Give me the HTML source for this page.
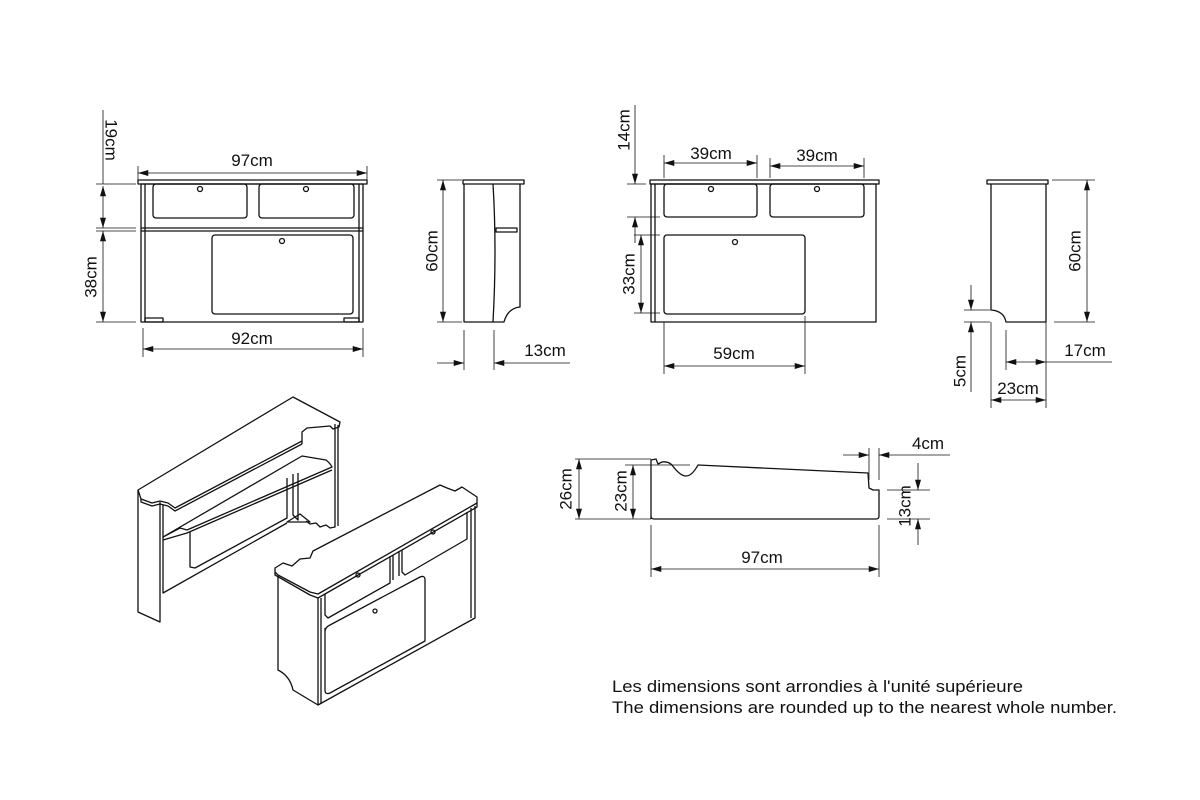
<!DOCTYPE html>
<html><head><meta charset="utf-8"><style>
html,body{margin:0;padding:0;background:#fff;}
svg{display:block;}
text{font-family:"Liberation Sans",Arial,sans-serif;font-size:17px;fill:#111;}
</style></head><body>
<svg width="1200" height="800" viewBox="0 0 1200 800" xmlns="http://www.w3.org/2000/svg">
<defs>
<marker id="a" viewBox="0 0 12 7" refX="12" refY="3.5" markerWidth="12" markerHeight="6" markerUnits="userSpaceOnUse" orient="auto-start-reverse"><path d="M0,0 L12,3.5 L0,7 z" fill="#111"/></marker>
</defs>
<g fill="none" stroke="#111" stroke-width="1.3" stroke-linejoin="round">
<!-- ===== Front view 1 ===== -->
<rect x="138" y="180" width="229" height="4"/>
<rect x="141" y="184" width="222" height="138"/>
<line x1="145" y1="184" x2="145" y2="322"/>
<line x1="359" y1="184" x2="359" y2="322"/>
<rect x="153" y="184" width="94" height="34" rx="3"/>
<rect x="259" y="184" width="95" height="34" rx="3"/>
<line x1="141" y1="228" x2="363" y2="228"/>
<line x1="141" y1="231" x2="363" y2="231"/>
<rect x="212" y="235" width="141" height="79" rx="3"/>
<circle cx="200" cy="189" r="2.5"/><circle cx="306" cy="189" r="2.5"/><circle cx="282" cy="241" r="2.5"/>
<rect x="145" y="318" width="18" height="4"/><rect x="344" y="318" width="15" height="4"/>
<line x1="138" y1="173" x2="367" y2="173" stroke-width="0.8" marker-start="url(#a)" marker-end="url(#a)"/>
<line x1="138" y1="166" x2="138" y2="180" stroke-width="0.8"/><line x1="367" y1="166" x2="367" y2="180" stroke-width="0.8"/>
<line x1="103" y1="110" x2="103" y2="184" stroke-width="0.8"/>
<line x1="103" y1="186" x2="103" y2="228" stroke-width="0.8" marker-start="url(#a)" marker-end="url(#a)"/>
<line x1="103" y1="231" x2="103" y2="322" stroke-width="0.8" marker-start="url(#a)" marker-end="url(#a)"/>
<line x1="96" y1="184" x2="136" y2="184" stroke-width="0.8"/>
<line x1="96" y1="228" x2="136" y2="228" stroke-width="0.8"/>
<line x1="96" y1="231" x2="136" y2="231" stroke-width="0.8"/>
<line x1="96" y1="322" x2="136" y2="322" stroke-width="0.8"/>
<line x1="143" y1="349" x2="363" y2="349" stroke-width="0.8" marker-start="url(#a)" marker-end="url(#a)"/>
<line x1="143" y1="328" x2="143" y2="357" stroke-width="0.8"/><line x1="363" y1="328" x2="363" y2="357" stroke-width="0.8"/>

<!-- ===== Side view 1 ===== -->
<rect x="463" y="180" width="61" height="4"/>
<path d="M464,184 L464,322 L504,322 Q508,308 520,307 L520,184"/>
<path d="M493,184 Q497,250 493,322"/>
<rect x="496" y="228" width="21" height="4"/>
<line x1="443" y1="180" x2="443" y2="322" stroke-width="0.8" marker-start="url(#a)" marker-end="url(#a)"/>
<line x1="437" y1="180" x2="462" y2="180" stroke-width="0.8"/><line x1="437" y1="322" x2="462" y2="322" stroke-width="0.8"/>
<line x1="464" y1="330" x2="464" y2="370" stroke-width="0.8"/><line x1="494" y1="330" x2="494" y2="370" stroke-width="0.8"/>
<line x1="437" y1="363" x2="464" y2="363" stroke-width="0.8" marker-end="url(#a)"/>
<line x1="570" y1="363" x2="494" y2="363" stroke-width="0.8" marker-end="url(#a)"/>

<!-- ===== Front view 2 ===== -->
<rect x="650" y="180" width="229" height="4"/>
<rect x="651" y="184" width="225" height="138"/>
<line x1="655" y1="184" x2="655" y2="322"/>
<rect x="664" y="184" width="93" height="33" rx="3"/>
<rect x="770" y="184" width="94" height="33" rx="3"/>
<rect x="664" y="235" width="141" height="79" rx="3"/>
<circle cx="711" cy="189" r="2.5"/><circle cx="817" cy="189" r="2.5"/><circle cx="735" cy="242" r="2.5"/>
<line x1="664" y1="163" x2="757" y2="163" stroke-width="0.8" marker-start="url(#a)" marker-end="url(#a)"/>
<line x1="664" y1="155" x2="664" y2="178" stroke-width="0.8"/><line x1="757" y1="155" x2="757" y2="178" stroke-width="0.8"/>
<line x1="770" y1="166" x2="864" y2="166" stroke-width="0.8" marker-start="url(#a)" marker-end="url(#a)"/>
<line x1="770" y1="158" x2="770" y2="178" stroke-width="0.8"/><line x1="864" y1="158" x2="864" y2="178" stroke-width="0.8"/>
<line x1="635" y1="105" x2="635" y2="184" stroke-width="0.8" marker-end="url(#a)"/>
<line x1="635" y1="243" x2="635" y2="217" stroke-width="0.8" marker-end="url(#a)"/>
<line x1="641" y1="235" x2="641" y2="313" stroke-width="0.8" marker-start="url(#a)" marker-end="url(#a)"/>
<line x1="627" y1="184" x2="646" y2="184" stroke-width="0.8"/>
<line x1="627" y1="217" x2="660" y2="217" stroke-width="0.8"/>
<line x1="634" y1="235" x2="660" y2="235" stroke-width="0.8"/>
<line x1="634" y1="313" x2="660" y2="313" stroke-width="0.8"/>
<line x1="664" y1="322" x2="664" y2="374" stroke-width="0.8"/><line x1="805" y1="316" x2="805" y2="374" stroke-width="0.8"/>
<line x1="664" y1="366" x2="805" y2="366" stroke-width="0.8" marker-start="url(#a)" marker-end="url(#a)"/>

<!-- ===== Side view 2 ===== -->
<rect x="987" y="180" width="61" height="4"/>
<path d="M991,184 L991,310 Q1004,311 1006,322 L1046,322 L1046,184"/>
<line x1="1087" y1="180" x2="1087" y2="322" stroke-width="0.8" marker-start="url(#a)" marker-end="url(#a)"/>
<line x1="1052" y1="180" x2="1095" y2="180" stroke-width="0.8"/><line x1="1054" y1="322" x2="1095" y2="322" stroke-width="0.8"/>
<line x1="964" y1="310" x2="990" y2="310" stroke-width="0.8"/><line x1="964" y1="322" x2="990" y2="322" stroke-width="0.8"/>
<line x1="971" y1="285" x2="971" y2="310" stroke-width="0.8" marker-end="url(#a)"/>
<line x1="971" y1="392" x2="971" y2="322" stroke-width="0.8" marker-end="url(#a)"/>
<line x1="1006" y1="330" x2="1006" y2="370" stroke-width="0.8"/>
<line x1="1046" y1="322" x2="1046" y2="408" stroke-width="0.8"/>
<line x1="991" y1="322" x2="991" y2="408" stroke-width="0.8"/>
<line x1="1006" y1="362" x2="1046" y2="362" stroke-width="0.8" marker-start="url(#a)" marker-end="url(#a)"/>
<line x1="1046" y1="362" x2="1112" y2="362" stroke-width="0.8"/>
<line x1="991" y1="400" x2="1046" y2="400" stroke-width="0.8" marker-start="url(#a)" marker-end="url(#a)"/>

<!-- ===== Profile view ===== -->
<path d="M651,519 L651,460 L656,459 L658,464 L662,462 Q668,461 672,465 Q680,476 686,476 Q692,476 698,465 L868,473 L869,488 L873,490 L879,490 L879,516 Q879,519 876,519 L654,519 Q651,519 651,516"/>
<line x1="575" y1="459" x2="651" y2="459" stroke-width="0.8"/><line x1="575" y1="519" x2="651" y2="519" stroke-width="0.8"/>
<line x1="579" y1="459" x2="579" y2="519" stroke-width="0.8" marker-start="url(#a)" marker-end="url(#a)"/>
<line x1="625" y1="465" x2="690" y2="465" stroke-width="0.8"/>
<line x1="633" y1="465" x2="633" y2="519" stroke-width="0.8" marker-start="url(#a)" marker-end="url(#a)"/>
<line x1="869" y1="448" x2="869" y2="480" stroke-width="0.8"/><line x1="879" y1="448" x2="879" y2="480" stroke-width="0.8"/>
<line x1="843" y1="455" x2="869" y2="455" stroke-width="0.8" marker-end="url(#a)"/>
<line x1="950" y1="455" x2="879" y2="455" stroke-width="0.8" marker-end="url(#a)"/>
<line x1="887" y1="490" x2="930" y2="490" stroke-width="0.8"/><line x1="887" y1="519" x2="930" y2="519" stroke-width="0.8"/>
<line x1="918" y1="463" x2="918" y2="490" stroke-width="0.8" marker-end="url(#a)"/>
<line x1="918" y1="545" x2="918" y2="519" stroke-width="0.8" marker-end="url(#a)"/>
<line x1="651" y1="525" x2="651" y2="577" stroke-width="0.8"/><line x1="879" y1="525" x2="879" y2="577" stroke-width="0.8"/>
<line x1="651" y1="569" x2="879" y2="569" stroke-width="0.8" marker-start="url(#a)" marker-end="url(#a)"/>

<!-- ===== Iso left unit ===== -->
<path d="M138,490 L293,397 L340,422 L339,427 L333,429 L330,426 L307,428 L302,432 L302,441 L175,508 L168,503 L160,501 L152,503 L141,499 Z"/>
<path d="M141,499 L141,502 L152,506 L160,504 L168,506 L175,511 L302,444"/>
<line x1="302" y1="441" x2="302" y2="444"/>
<path d="M138,490 L138,612 L160,622 L160,502"/>
<path d="M163,505 L163,593 L287,523"/>
<path d="M163,537 L302,456 L326,460 Q330,463 332,467 L187,530 L180,528 L163,537"/>
<path d="M163,540 L187,533 L332,470"/>
<path d="M190,532 L190,567 L195,568 L287,518 L287,478"/>
<path d="M293,474 L293,515 L298,520 L298,473"/>
<path d="M287,522 L310,522 L300,514 Z"/>
<path d="M335,424 L335,527 L330,528 L326,525 L320,527 L316,523 L310,524 L306,521"/>
<line x1="338" y1="425" x2="338" y2="526"/>
<!-- ===== Iso right unit ===== -->
<path d="M275,568 L283,563 L292,566 L300,559 L310,558 L313,551 L440,485 L447,488 L455,491 L462,487 L477,497 L477,503 L318,594 L310,592 L278,575 L275,572 Z"/>
<path d="M275,572 L275,575 L310,595 L318,598 L477,507 L477,503"/>
<path d="M278,576 L278,670 Q290,676 293,690 L318,705 L318,598"/>
<line x1="321" y1="598" x2="321" y2="704"/>
<path d="M318,705 L475,618 L475,506"/>
<line x1="471" y1="508" x2="471" y2="618"/>
<path d="M325,594 L325,615 L328,618 L390,583 L390,556"/>
<path d="M402,550 L402,572 L405,575 L467,539 L467,512"/>
<line x1="393" y1="555" x2="393" y2="580"/><line x1="399" y1="551" x2="399" y2="576"/>
<path d="M325,628 L325,690 Q325,695 330,693 L425,641 L425,580 Q425,575 420,577 L330,625 Q325,627 325,632"/>
<circle cx="358" cy="575" r="2"/><circle cx="433" cy="532" r="2"/><circle cx="375" cy="611" r="2"/>
</g>

<g>
<text x="252" y="166" text-anchor="middle">97cm</text>
<text transform="translate(110,140) rotate(90)" text-anchor="middle" dominant-baseline="middle">19cm</text>
<text transform="translate(92,277) rotate(-90)" text-anchor="middle" dominant-baseline="middle">38cm</text>
<text x="252" y="344" text-anchor="middle">92cm</text>
<text transform="translate(433,251) rotate(-90)" text-anchor="middle" dominant-baseline="middle">60cm</text>
<text x="545" y="356" text-anchor="middle">13cm</text>
<text x="711" y="159" text-anchor="middle">39cm</text>
<text x="817" y="161" text-anchor="middle">39cm</text>
<text transform="translate(625,130) rotate(-90)" text-anchor="middle" dominant-baseline="middle">14cm</text>
<text transform="translate(630,274) rotate(-90)" text-anchor="middle" dominant-baseline="middle">33cm</text>
<text x="734" y="359" text-anchor="middle">59cm</text>
<text transform="translate(1076,251) rotate(-90)" text-anchor="middle" dominant-baseline="middle">60cm</text>
<text transform="translate(961,371) rotate(-90)" text-anchor="middle" dominant-baseline="middle">5cm</text>
<text x="1085" y="356" text-anchor="middle">17cm</text>
<text x="1018" y="394" text-anchor="middle">23cm</text>
<text transform="translate(567,489) rotate(-90)" text-anchor="middle" dominant-baseline="middle">26cm</text>
<text transform="translate(622,491) rotate(-90)" text-anchor="middle" dominant-baseline="middle">23cm</text>
<text x="928" y="449" text-anchor="middle">4cm</text>
<text transform="translate(906,506) rotate(-90)" text-anchor="middle" dominant-baseline="middle">13cm</text>
<text x="762" y="563" text-anchor="middle">97cm</text>
<text x="612" y="692" textLength="411" lengthAdjust="spacingAndGlyphs">Les dimensions sont arrondies à l'unité supérieure</text>
<text x="612" y="713" textLength="505" lengthAdjust="spacingAndGlyphs">The dimensions are rounded up to the nearest whole number.</text>
</g>
</svg>
</body></html>
